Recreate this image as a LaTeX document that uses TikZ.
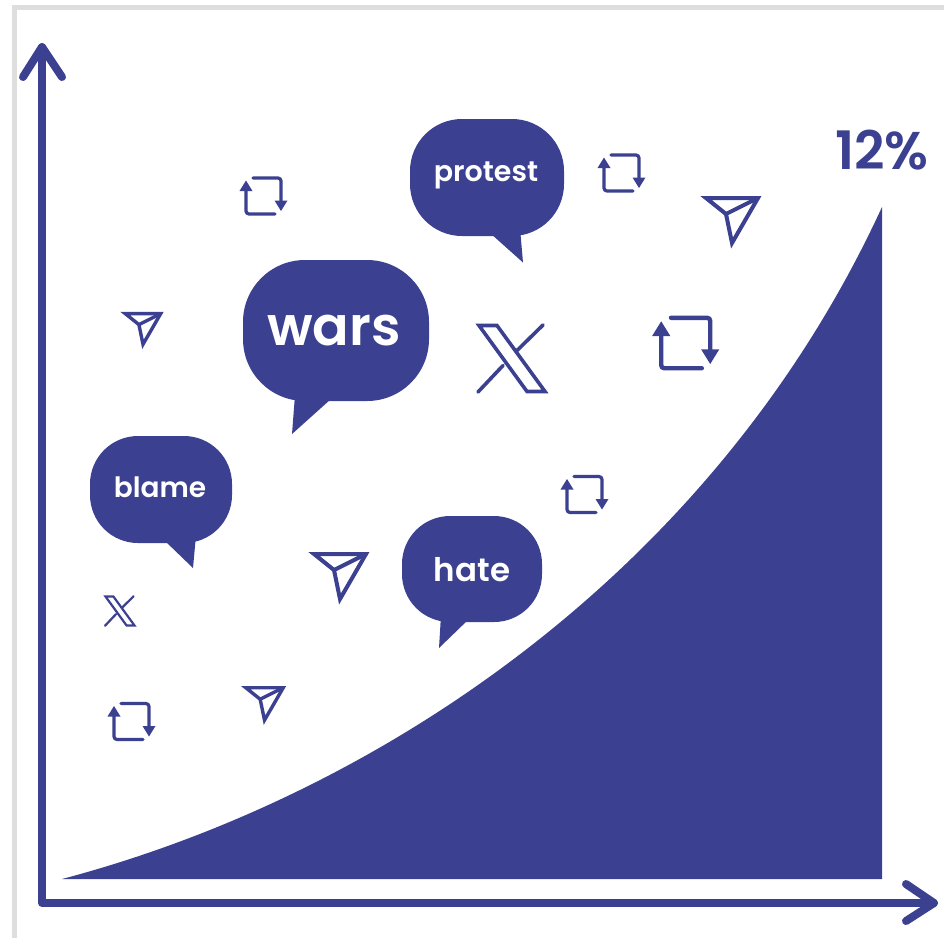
\documentclass[tikz,border=0pt]{standalone}
\usepackage{fontspec}
\setmainfont{Poppins SemiBold}
\definecolor{navy}{HTML}{3B4190}
\definecolor{frameg}{HTML}{DEDEDE}
\tikzset{
  x=1pt,y=-1pt,
  axisline/.style={draw=navy,line width=8pt,line cap=round,line join=round},
  bubble/.style={fill=navy,draw=none},
  bubbletext/.style={text=white,inner sep=0pt,anchor=center},
  iconline/.style={draw=navy,line join=miter,line cap=round},
  pics/retweet/.style n args={1}{code={
    \draw[iconline,line width=#1,rounded corners=3pt] (-10,-18) -- (18,-18) -- (18,7);
    \fill[navy] (11.5,4.5) -- (24.5,4.5) -- (18,15) -- cycle;
    \draw[iconline,line width=#1,rounded corners=3pt] (-17,-6) -- (-17,18) -- (12,18);
    \fill[navy] (-23.5,-5) -- (-10.5,-5) -- (-17,-15.5) -- cycle;
  }},
  pics/sendicon/.style n args={1}{code={
    \draw[iconline,line width=#1,miter limit=4] (-26,-24) -- (26,-24) -- (0,21) -- (-6,-8) -- cycle;
    \draw[iconline,line width=#1] (-6,-8) -- (26,-24);
  }},
  pics/xlogo/.style n args={1}{code={
    \draw[iconline,line width=#1,miter limit=3] (-33,-33) -- (-15,-33) -- (33,33) -- (15,33) -- cycle;
    \draw[iconline,line width=#1] (31,-33.5) -- (5,-8);
    \draw[iconline,line width=#1] (-34,33.5) -- (-9,7);
  }}
}
\begin{document}
\begin{tikzpicture}
\useasboundingbox (0,0) rectangle (944,938);
\fill[white] (0,0) rectangle (944,938);
% frame
\draw[frameg,line width=5pt] (14,938) -- (14,7.5) -- (944,7.5);
% area
\fill[navy] (62,879) .. controls (380,795) and (715,570) .. (882,207) -- (882,879) -- cycle;
% axes
\coordinate (origin) at (42,903);
\coordinate (ytip) at (42,47);
\coordinate (xtip) at (934,903);
\draw[axisline] (ytip) -- (origin) -- (xtip);
\draw[axisline] (23,77) -- (ytip) -- (62,77);
\draw[axisline] (906,884) -- (xtip) -- (906,921);
% bubbles
\fill[bubble,rounded corners=52pt] (410,119) rectangle (564,236);
\fill[bubble] (490,233) -- (523,262.5) -- (520,228) -- cycle;
\fill[bubble,rounded corners=62pt] (243,260) rectangle (429,401);
\fill[bubble] (295,395) -- (292,434) -- (331,399) -- cycle;
\fill[bubble,rounded corners=48pt] (90,436) rectangle (232,543);
\fill[bubble] (164,540) -- (193,568) -- (196,535) -- cycle;
\fill[bubble,rounded corners=48pt] (402,516) rectangle (542,622);
\fill[bubble] (441,615) -- (439,648) -- (470,618) -- cycle;
\node[bubbletext,font=\fontsize{28.5}{32}\selectfont] (protest) at (486,175) {protest};
\node[bubbletext,font=\fontsize{54}{56}\selectfont] (wars) at (334,331) {wars};
\node[bubbletext,font=\fontsize{28}{32}\selectfont] (blame) at (160,487) {blame};
\node[bubbletext,font=\fontsize{32.5}{36}\selectfont] (hate) at (472,570) {hate};
\node[text=navy,font=\fontsize{53}{56}\selectfont,inner sep=0pt] (pct) at (882,150) {12\%};
% icons
\pic at (263,196) {retweet={3.2pt}};
\pic at (621,173) {retweet={3.2pt}};
\pic[scale=1.4] at (685,343) {retweet={4.4pt}};
\pic at (584,494.5) {retweet={3.2pt}};
\pic at (131,721.5) {retweet={3.2pt}};
\pic at (732,222) {sendicon={4pt}};
\pic at (340,578) {sendicon={4pt}};
\pic[scale=0.72] at (264.5,705) {sendicon={3.4pt}};
\pic[scale=0.68] at (143,330) {sendicon={3.4pt}};
\pic at (512,358.5) {xlogo={3.6pt}};
\pic[scale=0.44] at (120,611) {xlogo={2.2pt}};
\end{tikzpicture}
\end{document}
